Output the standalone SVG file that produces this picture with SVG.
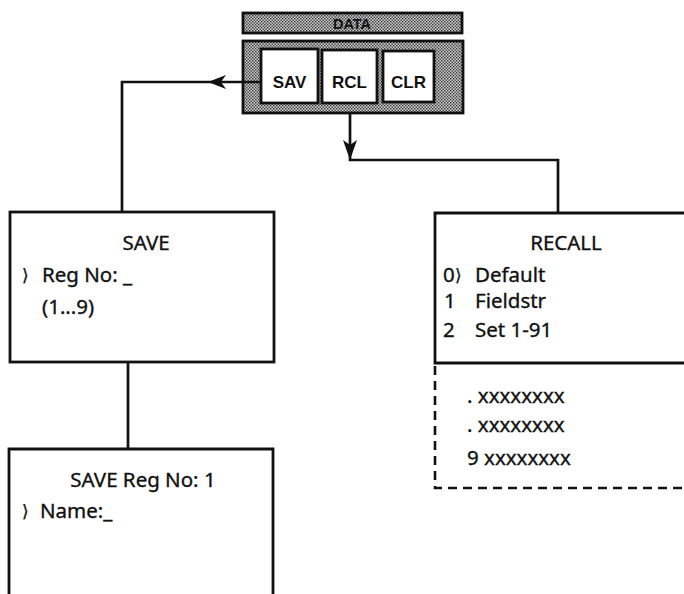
<svg xmlns="http://www.w3.org/2000/svg" width="684" height="594" viewBox="0 0 684 594">
<style>
.t{font-family:"Noto Sans","Liberation Sans",sans-serif;font-size:20.5px;fill:#111;stroke:#111;stroke-width:0.35}
.b{font-family:"Liberation Sans","Noto Sans",sans-serif;font-weight:bold;fill:#111}
.br{font-family:"DejaVu Sans","Noto Sans",sans-serif;font-size:17px;fill:#111;stroke:#111;stroke-width:0.3}
.box{fill:#fff;stroke:#111;stroke-width:2.8}
.line{fill:none;stroke:#111;stroke-width:2.7}
.dash{fill:none;stroke:#111;stroke-width:2.6;stroke-dasharray:9 6}
.shade{fill:url(#stip);stroke:#111;stroke-width:2.8}
</style>
<defs>
<pattern id="stip" width="3" height="3" patternUnits="userSpaceOnUse">
<rect width="3" height="3" fill="#cfcfcf"/>
<rect x="0" y="0" width="1.4" height="1.4" fill="#333"/>
<rect x="1.5" y="1.5" width="1.4" height="1.4" fill="#333"/>
</pattern>
</defs>
<rect width="684" height="594" fill="#fff"/>

<g id="data-menu">
<rect class="shade" x="243" y="13" width="219" height="20"/>
<text class="b" x="352" y="29" font-size="14.5" text-anchor="middle">DATA</text>
<rect class="shade" x="243" y="41" width="220" height="72"/>
<g id="key-sav">
<rect class="box" x="261" y="49" width="57" height="54"/>
<text class="b" x="289.5" y="88" font-size="17" text-anchor="middle">SAV</text>
</g>
<g id="key-rcl">
<rect class="box" x="322" y="50" width="55" height="53"/>
<text class="b" x="349.5" y="88" font-size="17" text-anchor="middle">RCL</text>
</g>
<g id="key-clr">
<rect class="box" x="383" y="51" width="51" height="51"/>
<text class="b" x="408.5" y="88" font-size="17" text-anchor="middle">CLR</text>
</g>
</g>

<g id="connectors">
<path class="line" d="M261,82 H122 V212"/>
<path d="M208,82 L226,75 L221,82 L226,89 Z" fill="#111"/>
<path class="line" d="M350,113 V160 H558 V213"/>
<path d="M350,160 L343,140 L350,145 L357,140 Z" fill="#111"/>
<path class="line" d="M128,362 V449"/>
</g>

<g id="save">
<rect class="box" x="10" y="212" width="264" height="150"/>
<text class="t" x="146" y="250" text-anchor="middle">SAVE</text>
<text class="br" x="22" y="281">⟩</text>
<text class="t" x="42" y="282">Reg No: _</text>
<text class="t" x="42" y="314">(1...9)</text>
</g>

<g id="save-name">
<path class="box" d="M9,596 V449 H273 V596"/>
<text class="t" x="143" y="487" text-anchor="middle">SAVE Reg No: 1</text>
<text class="br" x="22" y="517">⟩</text>
<text class="t" x="40" y="518">Name:_</text>
</g>

<g id="recall">
<path class="box" d="M688,213 H435 V363 H688"/>
<path class="dash" d="M435,366 V488 H686"/>
<text class="t" x="566" y="250" text-anchor="middle">RECALL</text>
<text class="t" x="443" y="282">0</text>
<text class="br" x="455" y="281">⟩</text>
<text class="t" x="475" y="282">Default</text>
<text class="t" x="444" y="308">1</text>
<text class="t" x="475" y="308">Fieldstr</text>
<text class="t" x="443" y="337">2</text>
<text class="t" x="475" y="337">Set 1-91</text>
<text class="t" x="467" y="403">. xxxxxxxx</text>
<text class="t" x="467" y="432">. xxxxxxxx</text>
<text class="t" x="467" y="465">9 xxxxxxxx</text>
</g>
</svg>
